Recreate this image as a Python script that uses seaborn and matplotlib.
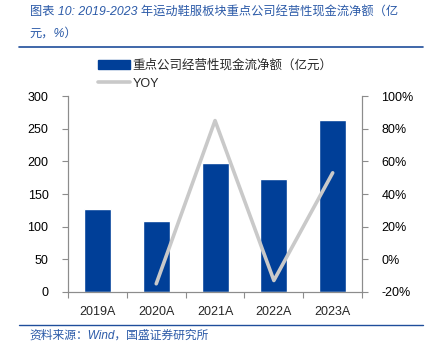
import matplotlib
matplotlib.use('Agg')
import matplotlib.pyplot as plt
import seaborn as sns
import pandas as pd
from matplotlib.lines import Line2D
from matplotlib.patches import Patch
from matplotlib.ticker import FuncFormatter

# data
years = ['2019A', '2020A', '2021A', '2022A', '2023A']
cash_flow = [127, 109, 198, 173, 263]   # 亿元
yoy_years = ['2020A', '2021A', '2022A', '2023A']
yoy = [-15, 85, -13, 53]                 # %

bar_label = '重点公司经营性现金流净额（亿元）'
line_label = 'YOY'
title1 = '图表 10: 2019-2023 年运动鞋服板块重点公司经营性现金流净额（亿'
title2 = '元，%）'
source = '资料来源：Wind，国盛证券研究所'

sns.set_style('white')
plt.rcParams['font.family'] = ['Liberation Sans', 'Noto Sans CJK SC', 'DejaVu Sans']

bar_color = '#003f98'
line_color = '#c9c9c9'
blue_text = '#2b5aa8'
spine_color = '#8c8c8c'

df = pd.DataFrame({'year': years, 'value': cash_flow})
df_yoy = pd.DataFrame({'year': yoy_years, 'yoy': yoy})

fig = plt.figure(figsize=(4.25, 3.56), dpi=100)
ax = fig.add_axes([0.16, 0.18, 0.692, 0.55])

sns.barplot(data=df, x='year', y='value', color=bar_color, width=0.46,
            saturation=1, ax=ax)
ax.set_ylim(0, 300)
ax.set_yticks(range(0, 301, 50))
ax.set_xlabel('')
ax.set_ylabel('')

ax2 = ax.twinx()
sns.lineplot(data=df_yoy, x='year', y='yoy', color=line_color, linewidth=2.6,
             ax=ax2, legend=False)
ax2.set_ylim(-20, 100)
ax2.set_yticks(range(-20, 101, 20))
ax2.yaxis.set_major_formatter(FuncFormatter(lambda v, p: f'{v:.0f}%'))
ax2.set_ylabel('')
ax.set_xlim(-0.5, 4.5)

for a in (ax, ax2):
    a.spines['top'].set_visible(False)
    for s in ('left', 'right', 'bottom'):
        a.spines[s].set_color(spine_color)
        a.spines[s].set_linewidth(0.8)
    a.tick_params(axis='y', length=4, width=0.8, color=spine_color,
                  labelsize=9, labelcolor='black', direction='out', pad=10)
ax.tick_params(axis='y', left=True)
ax2.tick_params(axis='y', right=True)

# x ticks between categories, labels under the bars
ax.set_xticks([-0.5, 0.5, 1.5, 2.5, 3.5, 4.5])
ax.set_xticklabels([''] * 6)
ax.set_xticks(range(len(years)), minor=True)
ax.set_xticklabels(years, minor=True)
ax.tick_params(axis='x', which='major', bottom=True, length=4, width=0.8,
               color=spine_color)
ax.tick_params(axis='x', which='minor', bottom=False, labelsize=9, pad=8)
ax2.tick_params(axis='x', which='both', bottom=False, top=False)

handles = [Patch(facecolor=bar_color, edgecolor=bar_color),
           Line2D([0], [0], color=line_color, linewidth=2.6)]
fig.legend(handles, [bar_label, line_label], loc='upper left',
           bbox_to_anchor=(0.215, 0.85), frameon=False, fontsize=9,
           handlelength=2.6, handleheight=0.7, handletextpad=0.2,
           labelspacing=0.45, borderpad=0)

# title and source
fig.text(0.07, 0.965, title1, color=blue_text, fontsize=8.8, style='italic',
         va='center', ha='left')
fig.text(0.07, 0.905, title2, color=blue_text, fontsize=8.8, style='italic',
         va='center', ha='left')
fig.add_artist(Line2D([0.045, 0.995], [0.868, 0.868], color='#1f4e9b',
                      linewidth=1.2, transform=fig.transFigure))
fig.add_artist(Line2D([0.045, 0.995], [0.087, 0.087], color='#1f4e9b',
                      linewidth=1.0, transform=fig.transFigure))
fig.text(0.07, 0.058, source, color=blue_text, fontsize=8.5, style='italic',
         va='center', ha='left')

fig.savefig('out.png', dpi=100)
